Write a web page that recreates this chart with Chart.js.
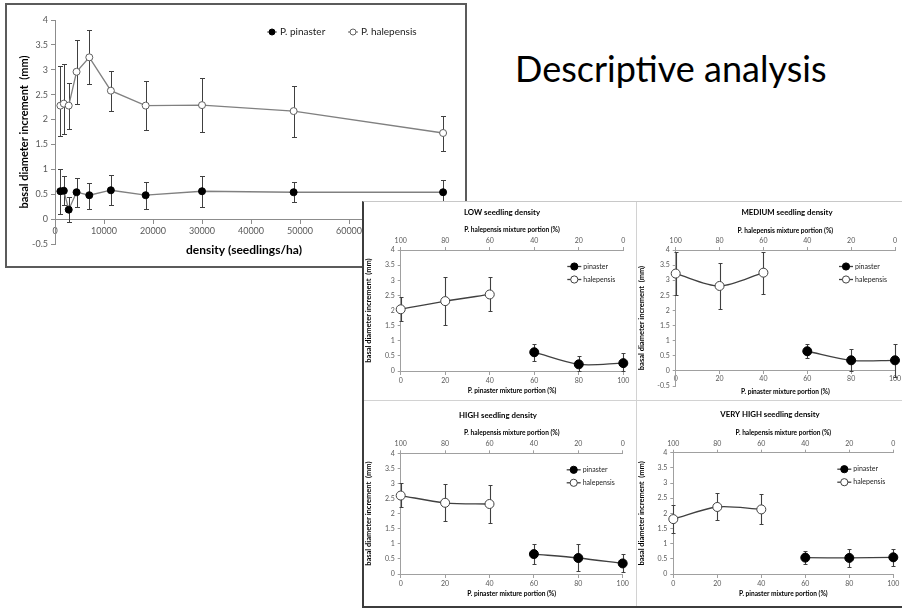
<!DOCTYPE html>
<html>
<head>
<meta charset="utf-8">
<title>Basal diameter increment - descriptive analysis</title>
<script src="https://cdn.jsdelivr.net/npm/chart.js@4.4.1/dist/chart.umd.min.js"></script>
<style>
  body { margin: 0; width: 902px; height: 611px; background: #fff; position: relative; overflow: hidden; font-family: Lato, sans-serif; }
  #mainBox { position: absolute; left: 5px; top: 3px; width: 458px; height: 261px; border: 2px solid #5b5b5b; }
  #mainBox canvas { display: block; }
  #heading { position: absolute; left: 515px; top: 50px; font-size: 36px; line-height: 36px; color: #000; white-space: nowrap; }
  #panel { position: absolute; left: 362px; top: 201px; width: 538px; height: 404px; background: #fff;
           border-left: 2px solid #3c3c3c; border-bottom: 2px solid #3c3c3c; border-top: 1px solid #c8c8c8; }
  .cell { position: absolute; display: block; }
  .vline { position: absolute; left: 272px; top: 0; width: 1px; height: 404px; background: #d2d2d2; }
  .hline { position: absolute; left: 0; top: 198px; width: 538px; height: 1px; background: #d2d2d2; }
</style>
</head>
<body>
<div id="mainBox"><canvas id="mainChart" width="458" height="261"></canvas></div>
<div id="heading">Descriptive analysis</div>
<div id="panel">
  <canvas id="lowChart" class="cell" width="272" height="198" style="left:0;top:0"></canvas>
  <canvas id="mediumChart" class="cell" width="265" height="198" style="left:273px;top:0"></canvas>
  <canvas id="highChart" class="cell" width="272" height="204" style="left:0;top:200px"></canvas>
  <canvas id="veryHighChart" class="cell" width="265" height="204" style="left:273px;top:200px"></canvas>
  <div class="vline"></div>
  <div class="hline"></div>
</div>
<script>
// Main chart: basal diameter increment (mm) vs density (seedlings/ha)
const densities = [1100, 1800, 2800, 4400, 7000, 11400, 18500, 30000, 48700, 79200];
const pinasterMean = [0.56, 0.57, 0.19, 0.54, 0.48, 0.58, 0.48, 0.56, 0.54, 0.54];
const pinasterLow = [0.11, 0.28, -0.05, 0.25, 0.20, 0.28, 0.21, 0.24, 0.34, 0.30];
const pinasterHigh = [1.00, 0.86, 0.45, 0.82, 0.73, 0.88, 0.75, 0.87, 0.75, 0.78];
const halepensisMean = [2.28, 2.32, 2.28, 2.96, 3.25, 2.58, 2.28, 2.29, 2.17, 1.73];
const halepensisLow = [1.67, 1.70, 1.82, 2.31, 2.71, 2.18, 1.79, 1.76, 1.65, 1.37];
const halepensisHigh = [3.08, 3.12, 2.74, 3.60, 3.79, 2.97, 2.78, 2.83, 2.68, 2.08];

// Mixture charts: x = P. pinaster mixture portion (%)
const halepensisPortion = [0, 20, 40];
const pinasterPortion = [60, 80, 100];

const lowHalMean = [2.04, 2.31, 2.53];
const lowHalLow = [1.65, 1.51, 1.97];
const lowHalHigh = [2.44, 3.11, 3.11];
const lowPinMean = [0.62, 0.22, 0.26];
const lowPinLow = [0.33, 0.0, 0.0];
const lowPinHigh = [0.88, 0.51, 0.58];

const medHalMean = [3.22, 2.81, 3.25];
const medHalLow = [2.50, 2.04, 2.56];
const medHalHigh = [3.92, 3.56, 3.92];
const medPinMean = [0.65, 0.35, 0.35];
const medPinLow = [0.41, 0.0, -0.2];
const medPinHigh = [0.88, 0.71, 0.90];

const highHalMean = [2.60, 2.36, 2.32];
const highHalLow = [2.21, 1.75, 1.69];
const highHalHigh = [3.00, 2.99, 2.95];
const highPinMean = [0.66, 0.53, 0.35];
const highPinLow = [0.33, 0.10, 0.07];
const highPinHigh = [0.99, 0.98, 0.65];

const vhHalMean = [1.81, 2.21, 2.13];
const vhHalLow = [1.34, 1.77, 1.64];
const vhHalHigh = [2.26, 2.66, 2.63];
const vhPinMean = [0.54, 0.53, 0.55];
const vhPinLow = [0.33, 0.23, 0.27];
const vhPinHigh = [0.76, 0.84, 0.84];

Chart.defaults.font.family = "Lato, 'DejaVu Sans', sans-serif";
Chart.defaults.color = '#595959';

const axisGray = '#8c8c8c';
const fmt = v => String(v);

// error bars drawn under the markers, from the chart's own scales
const errorBars = {
    id: 'errorBars',
    beforeDatasetsDraw(chart, args, opts) {
        const ctx = chart.ctx;
        const xs = chart.scales.x, ys = chart.scales.y;
        const cap = opts.cap || 2;
        ctx.save();
        ctx.strokeStyle = opts.color || '#404040';
        ctx.lineWidth = opts.width || 1;
        chart.data.datasets.forEach(ds => {
            if (!ds.errLow) return;
            ds.data.forEach((pt, i) => {
                const x = Math.round(xs.getPixelForValue(pt.x)) + 0.5;
                const y1 = Math.round(ys.getPixelForValue(ds.errLow[i])) + 0.5;
                const y2 = Math.round(ys.getPixelForValue(ds.errHigh[i])) + 0.5;
                ctx.beginPath();
                ctx.moveTo(x, y1); ctx.lineTo(x, y2);
                ctx.moveTo(x - cap, y1); ctx.lineTo(x + cap, y1);
                ctx.moveTo(x - cap, y2); ctx.lineTo(x + cap, y2);
                ctx.stroke();
            });
        });
        ctx.restore();
    }
};

// legend entries drawn as "-o-" line samples
const lineLegend = {
    id: 'lineLegend',
    afterDraw(chart, args, opts) {
        if (!opts.items) return;
        const ctx = chart.ctx;
        ctx.save();
        ctx.font = opts.font;
        ctx.textBaseline = 'middle';
        opts.items.forEach(it => {
            ctx.strokeStyle = opts.lineColor;
            ctx.lineWidth = opts.lineWidth;
            ctx.beginPath();
            ctx.moveTo(it.x, it.y); ctx.lineTo(it.x + opts.len, it.y);
            ctx.stroke();
            ctx.beginPath();
            ctx.arc(it.x + opts.len / 2, it.y, opts.radius, 0, Math.PI * 2);
            ctx.fillStyle = it.fill;
            ctx.fill();
            ctx.lineWidth = 1;
            ctx.strokeStyle = it.stroke;
            ctx.stroke();
            ctx.fillStyle = opts.textColor;
            ctx.fillText(it.label, it.x + opts.len + opts.gap, it.y);
        });
        ctx.restore();
    }
};

// free text captions (chart titles, bottom axis titles)
const captions = {
    id: 'captions',
    afterDraw(chart, args, opts) {
        if (!opts.items) return;
        const ctx = chart.ctx;
        const a = chart.chartArea;
        ctx.save();
        ctx.fillStyle = '#000';
        ctx.textAlign = 'center';
        ctx.textBaseline = 'middle';
        opts.items.forEach(it => {
            ctx.font = it.font;
            const x = it.x != null ? it.x : (a.left + a.right) / 2;
            ctx.fillText(it.text, x, it.y);
        });
        ctx.restore();
    }
};

function points(xs, ys) {
    return xs.map((x, i) => ({ x: x, y: ys[i] }));
}

// Main chart
new Chart(document.getElementById('mainChart'), {
    type: 'line',
    data: {
        datasets: [{
            label: 'P. pinaster',
            data: points(densities, pinasterMean),
            errLow: pinasterLow,
            errHigh: pinasterHigh,
            borderColor: '#808080',
            borderWidth: 1.3,
            pointRadius: 3.5,
            pointBackgroundColor: '#000',
            pointBorderColor: '#000',
            pointBorderWidth: 1,
            tension: 0,
            clip: false
        }, {
            label: 'P. halepensis',
            data: points(densities, halepensisMean),
            errLow: halepensisLow,
            errHigh: halepensisHigh,
            borderColor: '#808080',
            borderWidth: 1.3,
            pointRadius: 3.5,
            pointBackgroundColor: '#fff',
            pointBorderColor: '#606060',
            pointBorderWidth: 1,
            tension: 0,
            clip: false
        }]
    },
    options: {
        responsive: false,
        animation: false,
        layout: { padding: { left: 0, right: 18, top: 15, bottom: 22 } },
        plugins: {
            legend: { display: false },
            tooltip: { enabled: false },
            errorBars: { color: '#404040', width: 1, cap: 2.5 },
            lineLegend: {
                font: "10px Lato, sans-serif", textColor: '#222', lineColor: '#606060', lineWidth: 1,
                len: 10, radius: 3, gap: 3,
                items: [
                    { label: 'P. pinaster', x: 260, y: 27, fill: '#000', stroke: '#000' },
                    { label: 'P. halepensis', x: 341, y: 27, fill: '#fff', stroke: '#606060' }
                ]
            },
            captions: {
                items: [{ text: 'density (seedlings/ha)', x: 237, y: 245, font: "bold 12px Lato, sans-serif" }]
            }
        },
        scales: {
            x: {
                type: 'linear', min: 0, max: 80000,
                position: { y: 0 },
                afterFit: s => { s.height = 0; },
                ticks: { stepSize: 10000, autoSkip: false, maxRotation: 0, padding: 2.5, font: { size: 9 }, callback: fmt },
                grid: { drawOnChartArea: false, tickLength: 4, color: axisGray },
                border: { color: axisGray }
            },
            y: {
                min: -0.5, max: 4,
                afterFit: s => { s.width = 48; },
                ticks: { stepSize: 0.5, padding: 3, font: { size: 9 }, callback: fmt },
                title: { display: true, text: 'basal diameter increment  (mm)', color: '#000',
                         font: { size: 11, weight: 'bold' }, padding: { top: 11, bottom: 0 } },
                grid: { drawOnChartArea: false, tickLength: 4, color: axisGray },
                border: { color: axisGray }
            }
        }
    },
    plugins: [errorBars, lineLegend, captions]
});

// Mixture charts
function mixtureChart(canvasId, cfg) {
    const canvas = document.getElementById(canvasId);
    const W = canvas.width, H = canvas.height;
    const smallGray = '#a0a0a0';
    const lx = cfg.right - 56;
    return new Chart(canvas, {
        type: 'line',
        data: {
            datasets: [{
                label: 'pinaster',
                data: points(pinasterPortion, cfg.pinMean),
                errLow: cfg.pinLow,
                errHigh: cfg.pinHigh,
                borderColor: '#404040',
                borderWidth: 1.3,
                pointRadius: 4.5,
                pointBackgroundColor: '#000',
                pointBorderColor: '#000',
                pointBorderWidth: 1,
                tension: 0.3,
                clip: false
            }, {
                label: 'halepensis',
                data: points(halepensisPortion, cfg.halMean),
                errLow: cfg.halLow,
                errHigh: cfg.halHigh,
                borderColor: '#404040',
                borderWidth: 1.3,
                pointRadius: 4.5,
                pointBackgroundColor: '#fff',
                pointBorderColor: '#404040',
                pointBorderWidth: 1,
                tension: 0.3,
                clip: false
            }]
        },
        options: {
            responsive: false,
            animation: false,
            layout: { padding: { left: 0, top: 0, right: W - cfg.right, bottom: H - cfg.bottom } },
            plugins: {
                legend: { display: false },
                tooltip: { enabled: false },
                errorBars: { color: '#404040', width: 1.1, cap: 2 },
                lineLegend: {
                    font: "7px Lato, sans-serif", textColor: '#222', lineColor: '#404040', lineWidth: 1.3,
                    len: 14, radius: 3.6, gap: 2,
                    items: [
                        { label: 'pinaster', x: lx, y: cfg.top + 16.5, fill: '#000', stroke: '#000' },
                        { label: 'halepensis', x: lx, y: cfg.top + 29.5, fill: '#fff', stroke: '#404040' }
                    ]
                },
                captions: {
                    items: [
                        { text: cfg.title, x: cfg.titleX, y: cfg.titleY, font: "bold 7.8px Lato, sans-serif" },
                        { text: 'P. pinaster mixture portion (%)', y: cfg.bottomTitleY, font: "bold 6.6px Lato, sans-serif" }
                    ]
                }
            },
            scales: {
                x: {
                    type: 'linear', min: 0, max: 100,
                    position: { y: 0 },
                    afterFit: s => { s.height = 0; },
                    ticks: { stepSize: 20, autoSkip: false, maxRotation: 0, padding: cfg.tickPad, font: { size: 7 } },
                    grid: { drawOnChartArea: false, tickLength: 3, color: smallGray },
                    border: { color: smallGray }
                },
                x2: {
                    type: 'linear', position: 'top', min: 0, max: 100, reverse: true,
                    afterFit: s => { s.height = cfg.top; },
                    ticks: { stepSize: 20, autoSkip: false, maxRotation: 0, padding: 2, font: { size: 7 } },
                    title: { display: true, text: 'P. halepensis mixture portion (%)', color: '#000',
                             font: { size: 6.6, weight: 'bold' }, padding: { top: cfg.topTitleY - 4, bottom: 0 } },
                    grid: { drawOnChartArea: false, tickLength: 3, color: smallGray },
                    border: { color: smallGray }
                },
                y: {
                    min: cfg.yMin, max: 4,
                    afterFit: s => { s.width = cfg.left; },
                    ticks: { stepSize: 0.5, padding: 3, font: { size: 7 }, callback: fmt },
                    title: { display: true, text: 'basal diameter increment  (mm)', color: '#000',
                             font: { size: 7.5, weight: 'bold' }, padding: { top: 0.5, bottom: 0 } },
                    grid: { drawOnChartArea: false, tickLength: 3, color: smallGray },
                    border: { color: smallGray }
                }
            }
        },
        plugins: [errorBars, lineLegend, captions]
    });
}

mixtureChart('lowChart', {
    title: 'LOW seedling density', titleX: 138, titleY: 10, topTitleY: 28, bottomTitleY: 189,
    left: 36.7, right: 259.3, top: 48, bottom: 169, yMin: 0, tickPad: 2.5,
    halMean: lowHalMean, halLow: lowHalLow, halHigh: lowHalHigh,
    pinMean: lowPinMean, pinLow: lowPinLow, pinHigh: lowPinHigh
});

mixtureChart('mediumChart', {
    title: 'MEDIUM seedling density', titleX: 150, titleY: 10, topTitleY: 29, bottomTitleY: 190,
    left: 38.7, right: 258, top: 48, bottom: 184, yMin: -0.5, tickPad: 0.5,
    halMean: medHalMean, halLow: medHalLow, halHigh: medHalHigh,
    pinMean: medPinMean, pinLow: medPinLow, pinHigh: medPinHigh
});

mixtureChart('highChart', {
    title: 'HIGH seedling density', titleX: 134, titleY: 13, topTitleY: 31, bottomTitleY: 192,
    left: 36.7, right: 258.7, top: 51.3, bottom: 172, yMin: 0, tickPad: 2.5,
    halMean: highHalMean, halLow: highHalLow, halHigh: highHalHigh,
    pinMean: highPinMean, pinLow: highPinLow, pinHigh: highPinHigh
});

mixtureChart('veryHighChart', {
    title: 'VERY HIGH seedling density', titleX: 133, titleY: 12, topTitleY: 31, bottomTitleY: 192,
    left: 36.3, right: 256.3, top: 50.7, bottom: 172, yMin: 0, tickPad: 2.5,
    halMean: vhHalMean, halLow: vhHalLow, halHigh: vhHalHigh,
    pinMean: vhPinMean, pinLow: vhPinLow, pinHigh: vhPinHigh
});
</script>
</body>
</html>
